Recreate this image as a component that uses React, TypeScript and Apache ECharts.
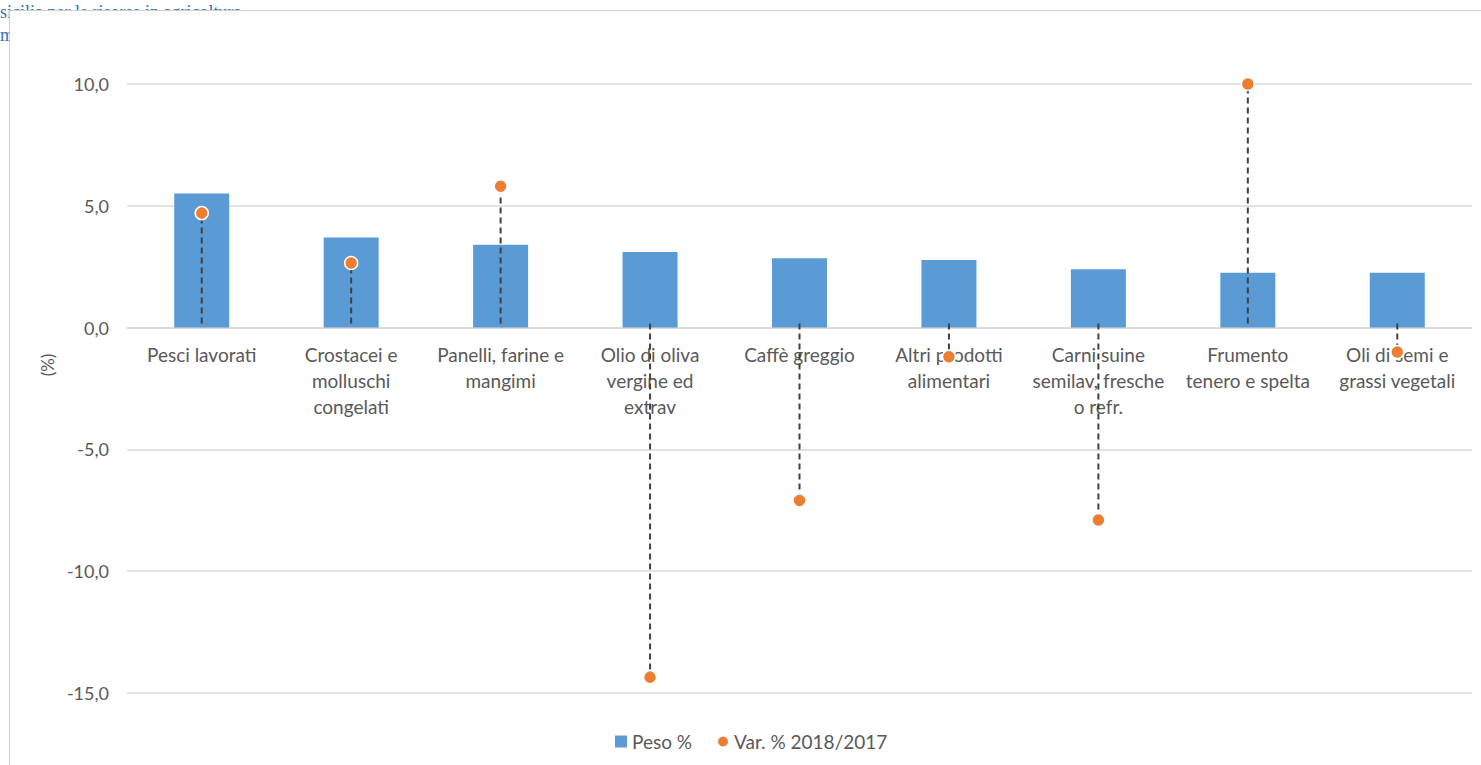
import React, { useEffect, useRef } from "react";
import * as echarts from "echarts";

const categories = [
  "Pesci lavorati",
  "Crostacei e\nmolluschi\ncongelati",
  "Panelli, farine e\nmangimi",
  "Olio di oliva\nvergine ed\nextrav",
  "Caffè greggio",
  "Altri prodotti\nalimentari",
  "Carni suine\nsemilav, fresche\no refr.",
  "Frumento\ntenero e spelta",
  "Oli di semi e\ngrassi vegetali",
];
const pesoValues = [5.5, 3.7, 3.4, 3.1, 2.85, 2.78, 2.4, 2.25, 2.25];
const varValues = [4.7, 2.65, 5.8, -14.35, -7.1, -1.2, -7.9, 10.0, -1.0];
const yTicks = { min: -15, max: 10, interval: 5 };
const seriesNames = ["Peso %", "Var. % 2018/2017"];
const headerLines = ["sicilia per le risorse in agricoltura", "m"];

const FONT = "Lato, 'Noto Sans', sans-serif";
const GRAY = "#595959";
const GRID_TOP = 73;
const GRID_BOTTOM = 72;
const CHART_H = 754;

export default function App() {
  const ref = useRef<HTMLDivElement>(null);
  useEffect(() => {
    if (!ref.current) return;
    const chart = echarts.init(ref.current, undefined, { renderer: "svg" });
    const plotH = CHART_H - GRID_TOP - GRID_BOTTOM;
    const zeroShift = (plotH * (0 - yTicks.min)) / (yTicks.max - yTicks.min);
    chart.setOption({
      animation: false,
      textStyle: { fontFamily: FONT },
      grid: {
        left: 117,
        right: 9,
        top: GRID_TOP,
        bottom: GRID_BOTTOM,
        containLabel: false,
        outerBoundsMode: "none",
      },
      legend: {
        data: [
          { name: seriesNames[0], icon: "rect" },
          { name: seriesNames[1], icon: "circle" },
        ],
        left: 600,
        top: 716,
        itemWidth: 12,
        itemHeight: 12,
        itemGap: 24,
        textStyle: { fontSize: 19, color: GRAY, fontFamily: FONT },
      },
      xAxis: {
        type: "category",
        data: categories,
        offset: -zeroShift,
        axisLine: { onZero: false, lineStyle: { color: "#d9d9d9", width: 1.5 } },
        axisTick: { show: false },
        axisLabel: {
          color: GRAY,
          fontSize: 19,
          lineHeight: 26,
          margin: 14,
          interval: 0,
          fontFamily: FONT,
        },
      },
      yAxis: {
        type: "value",
        min: yTicks.min,
        max: yTicks.max,
        interval: yTicks.interval,
        axisLine: { show: false },
        axisTick: { show: false },
        splitLine: { lineStyle: { color: "#d9d9d9", width: 1.5 } },
        axisLabel: {
          color: GRAY,
          fontSize: 18,
          margin: 18,
          fontFamily: FONT,
          formatter: (v: number) => v.toFixed(1).replace(".", ","),
        },
      },
      graphic: [
        {
          type: "text",
          x: 37,
          y: 354,
          rotation: Math.PI / 2,
          style: {
            text: "(%)",
            fill: GRAY,
            fontSize: 17,
            fontFamily: FONT,
            textAlign: "center",
            textVerticalAlign: "middle",
          },
        },
      ],
      series: [
        {
          name: seriesNames[0],
          type: "bar",
          data: pesoValues,
          barWidth: 55,
          itemStyle: { color: "#5B9BD5" },
          z: 2,
        },
        {
          name: "drop",
          type: "custom",
          data: varValues.map((v, i) => [i, v]),
          encode: { x: 0, y: 1 },
          z: 3,
          silent: true,
          renderItem: (params: any, api: any) => {
            const p = api.coord([api.value(0), api.value(1)]);
            const z = api.coord([api.value(0), 0]);
            return {
              type: "line",
              shape: { x1: p[0], y1: z[1] - 4, x2: p[0], y2: p[1] },
              style: { stroke: "#404040", lineWidth: 2, lineDash: [6, 4] },
            };
          },
        },
        {
          name: seriesNames[1],
          type: "scatter",
          data: varValues,
          symbol: "circle",
          symbolSize: 13,
          itemStyle: { color: "#ED7D31", borderColor: "#ffffff", borderWidth: 1.5, opacity: 1 },
          z: 4,
        },
      ],
    });
    return () => chart.dispose();
  }, []);

  return (
    <div
      style={{
        position: "fixed",
        left: 0,
        top: 0,
        width: 1481,
        height: 765,
        background: "#ffffff",
        overflow: "hidden",
      }}
    >
      <div
        style={{
          position: "absolute",
          left: 0,
          top: 1,
          fontFamily: "'Liberation Serif', 'DejaVu Serif', serif",
          fontSize: 18,
          lineHeight: "23px",
          color: "#2E75B6",
          whiteSpace: "pre",
        }}
      >
        {headerLines.join("\n")}
      </div>
      <div
        style={{
          position: "absolute",
          left: 9,
          top: 10,
          width: 1472,
          height: 755,
          borderLeft: "1px solid #d0d0d0",
          borderTop: "1px solid #d0d0d0",
          background: "#ffffff",
        }}
      >
        <div ref={ref} style={{ width: 1471, height: CHART_H }} />
      </div>
    </div>
  );
}
